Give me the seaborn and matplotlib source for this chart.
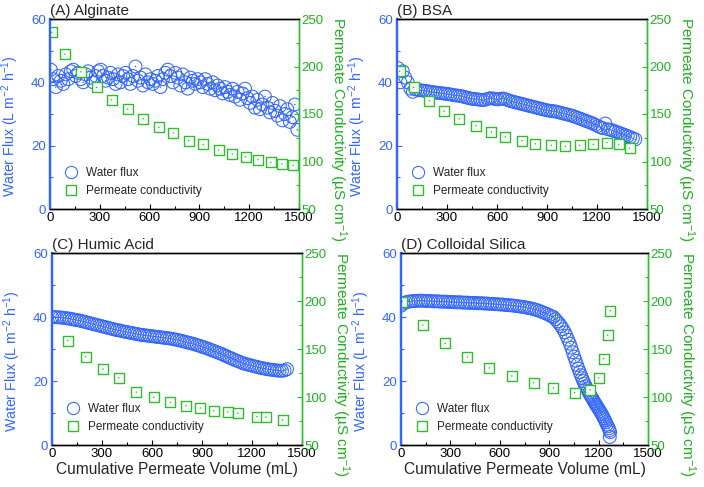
import numpy as np
import matplotlib
matplotlib.use("Agg")
import matplotlib.pyplot as plt
import seaborn as sns
from matplotlib.lines import Line2D
from matplotlib.ticker import MultipleLocator

sns.set_style("ticks")
plt.rcParams['font.family'] = ['Liberation Sans', 'DejaVu Sans']
plt.rcParams['mathtext.fontset'] = 'custom'
plt.rcParams['mathtext.rm'] = 'Liberation Sans'
plt.rcParams['mathtext.it'] = 'Liberation Sans:italic'
plt.rcParams['mathtext.default'] = 'regular'

BLUE = '#3366FF'
GREEN = '#2DBE2D'
GREEN_TXT = '#22B022'

# ---------------- data ----------------
titles = ['(A) Alginate', '(B) BSA', '(C) Humic Acid', '(D) Colloidal Silica']
x_ticks = [0, 300, 600, 900, 1200, 1500]
flux_ticks = [0, 20, 40, 60]
cond_ticks = [50, 100, 150, 200, 250]
legend_labels = ['Water flux', 'Permeate conductivity']

# (A) Alginate
A_flux = [44.0, 41.0, 38.5, 42.0, 40.5, 39.5, 42.5, 41.0, 43.5, 44.0,
          42.0, 43.0, 41.0, 40.0, 42.5, 43.5, 41.5, 40.0, 42.0, 43.5,
          44.0, 42.0, 40.5, 41.5, 43.0, 41.0, 39.5, 42.5, 40.0, 42.0,
          43.0, 41.0, 39.5, 42.0, 45.0, 40.5, 41.5, 39.0, 42.5, 40.0,
          41.0, 39.5, 40.5, 42.0, 38.5, 41.0, 43.0, 44.0, 42.0, 40.0,
          43.0, 41.5, 39.0, 42.5, 40.0, 38.0, 41.5, 40.5, 39.5, 41.0,
          40.0, 38.5, 41.0, 39.5, 38.0, 40.0, 37.5, 39.0, 38.0, 36.5,
          38.5, 37.0, 36.0, 38.0, 35.5, 37.0, 34.5, 36.5, 38.0, 35.0,
          33.5, 35.5, 32.0, 34.5, 31.5, 33.0, 35.5, 32.0, 30.5, 33.5,
          31.0, 29.5, 32.5, 28.0, 30.0, 31.5, 27.5, 29.0, 33.0, 25.0]
A_flux_x = 5 + 15 * np.arange(len(A_flux))
A_cond_x = [10, 90, 187, 281, 371, 468, 562, 656, 742, 835, 923, 1016,
            1098, 1178, 1254, 1329, 1398, 1465]
A_cond = [236, 213, 194.5, 178, 165, 155, 145, 136, 130, 122, 118, 112,
          108, 105, 102, 99, 97.6, 96]

# (B) BSA
B_flux = [44.5, 40.0, 43.5, 41.5, 40.0, 38.0, 37.0, 37.8,
          37.6, 37.5, 37.4, 37.3, 37.2, 37.0, 36.9, 36.8, 36.7, 36.6,
          36.5, 36.4, 36.3, 36.2, 36.0, 35.9, 35.8, 35.7, 35.5, 35.3,
          35.1, 34.9, 34.8, 34.7, 34.6, 34.5, 34.4, 34.5, 34.8, 35.0,
          34.9, 34.7, 34.6, 34.8, 34.9, 34.7, 34.4, 34.1, 33.9, 33.7,
          33.5, 33.3, 33.1, 32.9, 32.7, 32.5, 32.3, 32.1, 31.9, 31.7,
          31.5, 31.3, 31.1, 31.0, 30.9, 30.8, 30.6, 30.4, 30.2, 30.0,
          29.8, 29.6, 29.4, 29.1, 28.8, 28.5, 28.2, 27.9, 27.6, 27.3,
          27.0, 26.6, 26.2, 25.8, 25.5, 27.0, 25.2, 25.0, 24.8, 24.5,
          24.2, 23.9, 23.6, 23.3, 23.0, 22.7, 22.3, 22.0]
B_flux_x = 5 + 15 * np.arange(len(B_flux))
B_cond_x = [16, 100, 194, 282, 374, 474, 566, 650, 750, 830, 926, 1010,
            1096, 1178, 1260, 1330, 1396]
B_cond = [195, 178, 164, 153, 145, 137.5, 131, 126, 122, 118.6, 117, 116,
          117, 118, 120, 118, 114]

# (C) Humic Acid
C_flux = [40.0, 40.0, 39.9, 39.9, 39.8, 39.7, 39.6, 39.5, 39.3, 39.2,
          39.0, 38.9, 38.7, 38.5, 38.3, 38.1, 37.9, 37.7, 37.5, 37.3,
          37.1, 36.9, 36.7, 36.5, 36.3, 36.1, 35.9, 35.8, 35.6, 35.4,
          35.3, 35.1, 35.0, 34.8, 34.7, 34.5, 34.4, 34.3, 34.2, 34.1,
          34.0, 33.9, 33.8, 33.7, 33.6, 33.5, 33.4, 33.3, 33.2, 33.0,
          32.9, 32.7, 32.5, 32.3, 32.1, 31.9, 31.7, 31.5, 31.2, 31.0,
          30.7, 30.5, 30.2, 29.9, 29.6, 29.3, 29.0, 28.7, 28.4, 28.0,
          27.7, 27.3, 27.0, 26.6, 26.3, 26.0, 25.7, 25.4, 25.2, 25.0,
          24.8, 24.6, 24.4, 24.2, 24.0, 23.9, 23.7, 23.6, 23.5, 23.4,
          23.3, 23.2, 23.2, 23.3, 23.7]
C_flux_x = 15 * np.arange(len(C_flux))
C_cond_x = [94, 202, 306, 400, 506, 610, 710, 804, 890, 970, 1054, 1114,
            1230, 1284, 1384]
C_cond = [158.8, 142, 129, 120, 105, 99.7, 94.4, 91, 88.5, 85.7, 84.3, 83,
          79.5, 79, 76]

# (D) Colloidal Silica
D_flux_x = list(range(0, 901, 15)) + [
    913, 926, 938, 950, 962, 973, 984, 995, 1005, 1015,
    1025, 1034, 1043, 1052, 1061, 1069, 1077, 1085, 1093, 1100,
    1107, 1114, 1121, 1128, 1135, 1142, 1148, 1154, 1160, 1166,
    1172, 1178, 1184, 1190, 1196, 1202, 1208, 1214, 1220, 1226,
    1232, 1238, 1244, 1250, 1256, 1262, 1266, 1270, 1268]
D_flux = [43.5, 44.2, 44.6, 44.8, 44.9, 45.0, 45.0, 45.1, 45.1, 45.1,
          45.0, 45.0, 45.0, 44.9, 44.9, 44.9, 44.8, 44.8, 44.8, 44.7,
          44.7, 44.7, 44.6, 44.6, 44.6, 44.5, 44.5, 44.5, 44.4, 44.4,
          44.4, 44.3, 44.3, 44.3, 44.2, 44.2, 44.1, 44.1, 44.0, 44.0,
          43.9, 43.9, 43.8, 43.7, 43.7, 43.6, 43.5, 43.4, 43.3, 43.2,
          43.1, 42.9, 42.8, 42.6, 42.4, 42.2, 41.9, 41.6, 41.3, 41.0,
          40.6,
          40.2, 40.0, 39.3, 38.6, 37.9, 37.1, 36.2, 35.2, 34.1, 32.9,
          31.7, 30.4, 29.0, 27.6, 26.3, 25.0, 23.9, 22.8, 21.8, 20.9,
          20.0, 19.2, 18.4, 17.7, 17.0, 16.3, 15.7, 15.2, 14.7, 14.2,
          13.6, 13.1, 12.6, 12.1, 11.6, 11.1, 10.6, 10.1, 9.6, 9.0,
          8.4, 7.8, 7.1, 6.4, 5.8, 5.2, 4.6, 4.0, 2.5]
D_cond_x = [8, 132, 268, 403, 537, 673, 805, 926, 1054, 1149, 1200, 1230,
            1255, 1271]
D_cond = [199.4, 175, 155.8, 141.8, 130.3, 122, 115, 109.4, 104.5, 107.6,
          119.8, 140, 164.5, 190]

panels = [
    (A_flux_x, A_flux, A_cond_x, A_cond),
    (B_flux_x, B_flux, B_cond_x, B_cond),
    (C_flux_x, C_flux, C_cond_x, C_cond),
    (D_flux_x, D_flux, D_cond_x, D_cond),
]

# layout: axes rectangles in figure fraction (left, bottom, width, height)
W, H = 704.0, 487.0
rects = [
    (50 / W, 1 - 209 / H, 249 / W, 190 / H),
    (397 / W, 1 - 209 / H, 250 / W, 190 / H),
    (52 / W, 1 - 445 / H, 250 / W, 192 / H),
    (401 / W, 1 - 445 / H, 247 / W, 192 / H),
]

fig = plt.figure(figsize=(7.04, 4.87), dpi=100)

for i, (rect, title, (fx, fy, cx, cy)) in enumerate(zip(rects, titles, panels)):
    ax = fig.add_axes(rect)
    ax2 = ax.twinx()

    sns.scatterplot(x=fx, y=fy, ax=ax, marker='o', s=85, color=BLUE,
                    facecolor='none', edgecolor=BLUE, linewidth=0.75)
    sns.scatterplot(x=fx, y=fy, ax=ax, marker='o', s=1.2, color=BLUE,
                    edgecolor='none', linewidth=0)
    sns.scatterplot(x=cx, y=cy, ax=ax2, marker='s', s=60, color=GREEN,
                    facecolor='white', edgecolor=GREEN, linewidth=1.0)
    sns.scatterplot(x=cx, y=cy, ax=ax2, marker='o', s=1.2, color=GREEN,
                    edgecolor='none', linewidth=0)

    ax.set_xlim(0, 1500)
    ax.set_ylim(0, 60)
    ax2.set_ylim(50, 250)
    ax.set_xticks(x_ticks)
    ax.set_yticks(flux_ticks)
    ax2.set_yticks(cond_ticks)
    ax.xaxis.set_minor_locator(MultipleLocator(150))
    ax.yaxis.set_minor_locator(MultipleLocator(10))
    ax2.yaxis.set_minor_locator(MultipleLocator(25))

    ax.tick_params(axis='x', which='both', direction='in', top=False,
                   labelsize=9.5, pad=2.5, colors='black')
    ax.tick_params(axis='x', which='major', length=3.5, width=0.8)
    ax.tick_params(axis='x', which='minor', length=2, width=0.8)
    ax.tick_params(axis='y', which='both', direction='in', right=False,
                   labelsize=9.5, pad=3, color=BLUE, labelcolor=BLUE)
    ax.tick_params(axis='y', which='major', length=3.5, width=0.8)
    ax.tick_params(axis='y', which='minor', length=2, width=0.8)
    ax2.tick_params(axis='y', which='both', direction='in', left=False,
                    labelsize=9.5, pad=2, color=GREEN, labelcolor=GREEN_TXT)
    ax2.tick_params(axis='y', which='major', length=3.5, width=0.8)
    ax2.tick_params(axis='y', which='minor', length=2, width=0.8)

    for a in (ax, ax2):
        a.spines['top'].set_color('black')
        a.spines['bottom'].set_color('black')
        a.spines['left'].set_color(BLUE)
        a.spines['right'].set_color(GREEN)
        for s in a.spines.values():
            s.set_linewidth(1.0)
    ax.spines['left'].set_linewidth(1.6)
    ax2.spines['left'].set_linewidth(1.6)

    ax.set_ylabel('Water Flux (L m$^{-2}$ h$^{-1}$)', fontsize=10.2,
                  color=BLUE, labelpad=7)
    ax.yaxis.label.set_y(0.435)
    ax2.set_ylabel('Permeate Conductivity (µS cm$^{-1}$)', fontsize=11,
                   color=GREEN_TXT, rotation=270, va='bottom', labelpad=2)
    ax2.yaxis.label.set_y(0.42)
    if i >= 2:
        ax.set_xlabel('Cumulative Permeate Volume (mL)', fontsize=11.2,
                      labelpad=1)
    else:
        ax.set_xlabel('')
    ax.set_title(title, loc='left', fontsize=11, pad=3)

    handles = [
        Line2D([], [], ls='', marker='o', ms=8.8, mfc='none', mec=BLUE, mew=0.75),
        Line2D([], [], ls='', marker='s', ms=7.5, mfc='white', mec=GREEN, mew=1.0),
    ]
    ax2.legend(handles, legend_labels, loc='lower left',
               bbox_to_anchor=(0.04, 0.045), frameon=False, fontsize=8.5,
               handlelength=1.2, handletextpad=0.7, labelspacing=0.5,
               borderaxespad=0, borderpad=0.3)

fig.savefig('out.png', dpi=100)
